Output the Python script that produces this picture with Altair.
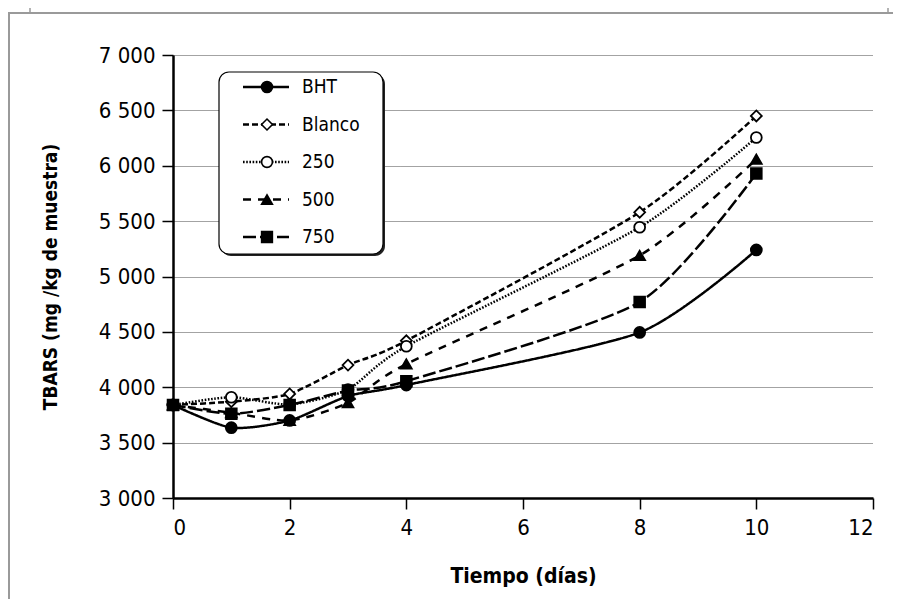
import altair as alt
import pandas as pd

# ---- data ----
days = [0, 1, 2, 3, 4, 8, 10]
series = ["BHT", "Blanco", "250", "500", "750"]
bht = [3840, 3635, 3700, 3920, 4020, 4495, 5240]
blanco = [3840, 3870, 3940, 4200, 4420, 5580, 6450]
t250 = [3840, 3910, 3845, 3980, 4370, 5445, 6255]
t500 = [3840, 3770, 3700, 3860, 4210, 5190, 6060]
t750 = [3840, 3760, 3840, 3970, 4055, 4770, 5930]
x_ticks = [0, 2, 4, 6, 8, 10, 12]
y_ticks = [3000, 3500, 4000, 4500, 5000, 5500, 6000, 6500, 7000]

values = {"BHT": bht, "Blanco": blanco, "250": t250, "500": t500, "750": t750}
rows = []
for s in series:
    for d, v in zip(days, values[s]):
        rows.append({"dia": d, "tbars": v, "serie": s})
df = pd.DataFrame(rows)
leg_df = pd.DataFrame({"serie": series})

FONT = "'DejaVu Sans Condensed', 'Liberation Sans', sans-serif"

# ---- styles ----
dash_scale = alt.Scale(domain=series, range=[[1, 0], [6, 3], [1.6, 1.6], [8, 7], [13, 4]])
width_scale = alt.Scale(domain=series, range=[2.5, 2.5, 2, 2.5, 2])
shape_scale = alt.Scale(domain=series, range=["circle", "diamond", "circle", "triangle-up", "square"])
fill_scale = alt.Scale(domain=series, range=["black", "white", "white", "black", "black"])
size_scale = alt.Scale(domain=series, range=[120, 115, 140, 125, 110])
leg_size_scale = alt.Scale(domain=series, range=[70, 60, 75, 90, 60])

x_enc = alt.X(
    "dia:Q",
    scale=alt.Scale(domain=[0, 12], nice=False),
    axis=alt.Axis(
        values=x_ticks, format="d", title="Tiempo (días)", grid=False,
        domainColor="black", domainWidth=2.5, tickColor="black", tickWidth=1.5, tickSize=11,
        labelFont=FONT, labelFontSize=22, labelColor="black", labelPadding=8,
        titleFont=FONT, titleFontSize=21, titleFontWeight="bold", titleColor="black", titlePadding=27,
    ),
)
y_enc = alt.Y(
    "tbars:Q",
    scale=alt.Scale(domain=[3000, 7000], nice=False, zero=False),
    axis=alt.Axis(
        values=y_ticks, title="TBARS (mg /kg de muestra)",
        labelExpr="replace(format(datum.value, ','), ',', ' ')",
        grid=True, gridColor="#333", gridDash=[1, 1], gridWidth=1, gridOpacity=0.9,
        domainColor="black", domainWidth=2.5, tickColor="black", tickWidth=1.5, tickSize=11,
        labelFont=FONT, labelFontSize=22, labelColor="black", labelPadding=7,
        titleFont=FONT, titleFontSize=19, titleFontWeight="bold", titleColor="black", titlePadding=38,
    ),
)

base = alt.Chart(df)
lines = base.mark_line(interpolate="cardinal", tension=0.3, color="black").encode(
    x=x_enc, y=y_enc,
    strokeDash=alt.StrokeDash("serie:N", scale=dash_scale, legend=None),
    strokeWidth=alt.StrokeWidth("serie:N", scale=width_scale, legend=None),
    detail="serie:N",
)
points = base.mark_point(filled=True, stroke="black", strokeWidth=1.8, opacity=1).encode(
    x="dia:Q", y="tbars:Q",
    shape=alt.Shape("serie:N", scale=shape_scale, legend=None),
    fill=alt.Fill("serie:N", scale=fill_scale, legend=None),
    size=alt.Size("serie:N", scale=size_scale, legend=None),
)
main = alt.layer(lines, points)

# ---- custom legend box (layout in pixels) ----
leg_y = alt.Y("serie:N", scale=alt.Scale(type="point", domain=series, range=[32, 182], padding=0), axis=None)
box_df = pd.DataFrame({"k": [0]})
shadow = alt.Chart(box_df).mark_rect(cornerRadius=10, fill="#222").encode(
    x=alt.value(48), x2=alt.value(212), y=alt.value(19), y2=alt.value(201))
box = alt.Chart(box_df).mark_rect(cornerRadius=10, fill="white", stroke="black", strokeWidth=1.2).encode(
    x=alt.value(46), x2=alt.value(210), y=alt.value(17), y2=alt.value(199))
leg_lines = alt.Chart(leg_df).mark_rule(color="black").encode(
    x=alt.value(70), x2=alt.value(116), y=leg_y,
    strokeDash=alt.StrokeDash("serie:N", scale=dash_scale, legend=None),
    strokeWidth=alt.StrokeWidth("serie:N", scale=width_scale, legend=None),
)
leg_pts = alt.Chart(leg_df).mark_point(filled=True, stroke="black", strokeWidth=1.6, opacity=1).encode(
    x=alt.value(94), y=leg_y,
    shape=alt.Shape("serie:N", scale=shape_scale, legend=None),
    fill=alt.Fill("serie:N", scale=fill_scale, legend=None),
    size=alt.Size("serie:N", scale=leg_size_scale, legend=None),
)
leg_txt = alt.Chart(leg_df).mark_text(align="left", baseline="middle", font=FONT, fontSize=19, color="black").encode(
    x=alt.value(129), y=leg_y, text="serie:N")
legend = alt.layer(shadow, box, leg_lines, leg_pts, leg_txt)

# ---- page frame (decoration) ----
frame_df = pd.DataFrame({"k": [0]})
frame_color = "#9a9a9a"
f_top = alt.Chart(frame_df).mark_rule(color=frame_color, strokeWidth=2).encode(
    x=alt.value(-165), x2=alt.value(720), y=alt.value(-42))
f_left = alt.Chart(frame_df).mark_rule(color=frame_color, strokeWidth=2).encode(
    x=alt.value(-164), y=alt.value(-42), y2=alt.value(544))
f_v1 = alt.Chart(frame_df).mark_rule(color=frame_color, strokeWidth=1.5).encode(
    x=alt.value(-143), y=alt.value(-47), y2=alt.value(-42))
f_v2 = alt.Chart(frame_df).mark_rule(color=frame_color, strokeWidth=1.5).encode(
    x=alt.value(715), y=alt.value(-47), y2=alt.value(-42))
frame = alt.layer(f_top, f_left, f_v1, f_v2)

chart = alt.layer(main, legend, frame).resolve_scale(y="independent").properties(
    width=700, height=443,
    autosize=alt.AutoSizeParams(type="none"),
    padding={"left": 165, "top": 47, "right": 20, "bottom": 101},
).configure_view(stroke=None)

chart.save("out.html", embed_options={"renderer": "svg", "actions": False})
